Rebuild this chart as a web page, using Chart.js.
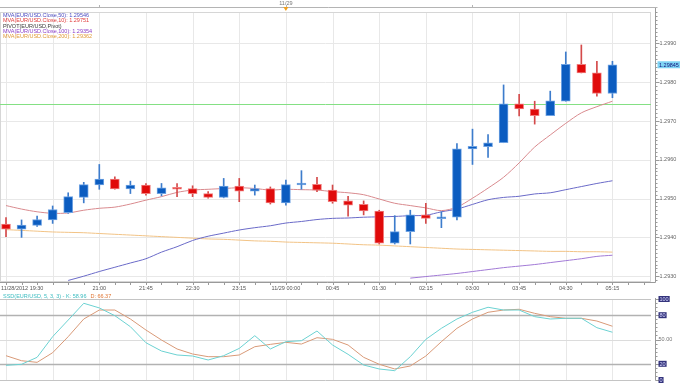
<!DOCTYPE html>
<html><head><meta charset="utf-8">
<script src="https://cdn.jsdelivr.net/npm/chart.js@4.4.0/dist/chart.umd.min.js"></script>
<style>
html,body{margin:0;padding:0;background:#fff;}
#wrap{position:relative;width:680px;height:385px;overflow:hidden;background:#fff;}
#main{position:absolute;left:0;top:0;}
#stoch{position:absolute;left:0;top:290px;}
</style></head><body>
<div id="wrap"><canvas id="main" width="680" height="300"></canvas><canvas id="stoch" width="680" height="95"></canvas></div>
<script>
// ---------- DATA ----------
const times = ['19:30','19:45','20:00','20:15','20:30','20:45','21:00','21:15','21:30','21:45','22:00','22:15','22:30','22:45','23:00','23:15','23:30','23:45',
  '00:00','00:15','00:30','00:45','01:00','01:15','01:30','01:45','02:00','02:15','02:30','02:45','03:00','03:15','03:30','03:45','04:00','04:15','04:30','04:45','05:00','05:15'];
const tickIdx  = [0,6,9,12,15,18,21,24,27,30,33,36,39];
const tickText = ['11/28/2012 19:30','21:00','21:45','22:30','23:15','11/29 00:00','00:45','01:30','02:15','03:00','03:45','04:30','05:15'];
const dayMarkerText = '11/29';
const priceTicks = [1.2930,1.2940,1.2950,1.2960,1.2970,1.2980,1.2990];

const open  = [1.29434,1.29421,1.29431,1.29445,1.29464,1.29503,1.29535,1.29550,1.29525,1.29535,1.29513,1.29528,1.29526,1.29513,1.29503,1.29532,1.29519,1.29526,1.29489,1.29535,1.29537,1.29522,1.29494,1.29485,1.29468,1.29385,1.29415,1.29458,1.29448,1.29452,1.29628,1.29634,1.29644,1.29744,1.29731,1.29714,1.29751,1.29846,1.29824,1.29771];
const high  = [1.29451,1.29445,1.29455,1.29481,1.29515,1.29542,1.29588,1.29556,1.29545,1.29539,1.29539,1.29539,1.29533,1.29518,1.29552,1.29552,1.29535,1.29530,1.29548,1.29572,1.29555,1.29535,1.29506,1.29494,1.29470,1.29456,1.29470,1.29488,1.29466,1.29642,1.29679,1.29665,1.29793,1.29769,1.29751,1.29777,1.29878,1.29896,1.29854,1.29854];
const low   = [1.29402,1.29400,1.29428,1.29436,1.29462,1.29489,1.29524,1.29524,1.29513,1.29509,1.29507,1.29505,1.29505,1.29501,1.29502,1.29492,1.29509,1.29486,1.29483,1.29524,1.29518,1.29488,1.29455,1.29458,1.29383,1.29383,1.29383,1.29436,1.29425,1.29445,1.29588,1.29606,1.29644,1.29713,1.29692,1.29714,1.29751,1.29824,1.29764,1.29760];
const close = [1.29421,1.29432,1.29446,1.29472,1.29505,1.29536,1.29550,1.29525,1.29535,1.29513,1.29528,1.29524,1.29513,1.29503,1.29532,1.29519,1.29526,1.29489,1.29536,1.29538,1.29522,1.29492,1.29483,1.29468,1.29385,1.29415,1.29458,1.29449,1.29452,1.29628,1.29635,1.29644,1.29744,1.29731,1.29714,1.29752,1.29846,1.29824,1.29771,1.29845];

const ma10  = [1.29482,1.29473,1.29466,1.29462,1.29463,1.29470,1.29475,1.29478,1.29486,1.29496,1.29505,1.29516,1.29522,1.29524,1.29526,1.29528,1.29526,1.29522,1.29524,1.29523,1.29522,1.29518,1.29515,1.29510,1.29499,1.29488,1.29482,1.29476,1.29469,1.29478,1.29501,1.29527,1.29555,1.29592,1.29633,1.29664,1.29694,1.29721,1.29737,1.29751];
const ma50  = [null,null,null,null,1.29289,1.29300,1.29312,1.29323,1.29334,1.29345,1.29362,1.29376,1.29392,1.29403,1.29411,1.29419,1.29425,1.29430,1.29437,1.29441,1.29446,1.29449,1.29450,1.29452,1.29453,1.29454,1.29456,1.29457,1.29466,1.29473,1.29485,1.29497,1.29503,1.29506,1.29512,1.29515,1.29523,1.29531,1.29539,1.29546];
const ma100 = [null,null,null,null,null,null,null,null,null,null,null,null,null,null,null,null,null,null,null,null,null,null,null,null,null,
  null,1.29295,1.29299,1.29303,1.29307,1.29312,1.29317,1.29322,1.29326,1.29330,1.29335,1.29340,1.29345,1.29351,1.29354];
const ma200 = [1.29420,1.29418,1.29416,1.29414,1.29413,1.29412,1.29410,1.29408,1.29406,1.29404,1.29402,1.29400,1.29398,1.29396,1.29395,1.29393,1.29391,1.29390,1.29388,1.29387,1.29386,1.29385,1.29383,1.29381,1.29380,1.29378,1.29376,1.29374,1.29372,1.29370,1.29369,1.29368,1.29367,1.29366,1.29365,1.29364,1.29364,1.29363,1.29363,1.29362];
const pivot = 1.29744;

const stochK = [18.1,19.4,28,53.5,74,94.7,89,79.4,65.8,46,35.8,30.9,29.6,24.7,30,39,54.7,38.3,47.3,48.5,60.5,43.2,31.7,18.5,13.6,11.5,28.8,50.2,63.8,75.3,83.6,89.8,86.4,86.4,78.2,75.3,76.2,76.2,64.6,58.96];
const stochD = [30,23.8,21.8,33.7,53.5,75.3,86.4,86.4,75.3,61.7,49.4,38.3,32.1,28.8,28.8,30.9,41.1,44,46.5,44.4,52.2,50.2,43.2,28,19.4,13.6,17.3,29.6,47.3,63.8,75.3,83.6,86.4,87.3,82.3,78.2,76.2,76.2,72.8,66.37];
const stochLevels = [100,80,50,20,0];

// ---------- STYLE ----------
const FONT = '"Liberation Sans", Arial, sans-serif';
const FS = 5.5;
const UP = '#0b5cc0', DOWN = '#e00a0a';
const C_MA10 = '#d98a8e', C_MA50 = '#6a6ac8', C_MA100 = '#a27ad6', C_MA200 = '#f2c385', C_PIV = '#84e084';
const C_K = '#6cd2d2', C_D = '#d99a78';
const XMIN = -0.386, XMAX = 41.48;

function pts(arr){ return arr.map((v,i)=>({x:i,y:v})).filter(p=>p.y!=null); }
function hline(ctx,x1,x2,y){ ctx.beginPath(); ctx.moveTo(x1,y); ctx.lineTo(x2,y); ctx.stroke(); }
function vline(ctx,x,y1,y2){ ctx.beginPath(); ctx.moveTo(x,y1); ctx.lineTo(x,y2); ctx.stroke(); }
const isUp = i => close[i] >= open[i];

const mainDecor = {
  id:'mainDecor',
  beforeDatasetsDraw(chart){
    const {ctx, chartArea:a, scales:{x,y}} = chart;
    ctx.save();
    ctx.lineWidth = 1;
    ctx.strokeStyle = '#e8e8e8';
    for (let i=0;i<times.length;i+=3){ const px=Math.round(x.getPixelForValue(i))+0.5; vline(ctx,px,a.top,a.bottom); }
    for (const v of priceTicks){ const py=Math.round(y.getPixelForValue(v))+0.5; hline(ctx,a.left,a.right,py); }
    ctx.strokeStyle = '#d6d6d6';
    ctx.strokeRect(a.left+0.5,a.top+0.5,a.right-a.left-1,a.bottom-a.top-1);
    ctx.strokeStyle = C_PIV;
    hline(ctx,a.left,a.right,Math.round(y.getPixelForValue(pivot))+0.5);
    ctx.restore();
  },
  afterDraw(chart){
    const {ctx, chartArea:a, scales:{x,y}} = chart;
    ctx.save();
    const axX = a.right + 4.5;
    ctx.strokeStyle = '#9a9a9a'; ctx.lineWidth = 1;
    vline(ctx, axX, 7, a.bottom+0.5);
    for (let k=0;k<=80;k++){
      const v = 1.2922 + k*0.0001;
      const py = y.getPixelForValue(v);
      if (py < a.top-1 || py > a.bottom+1) continue;
      const major = priceTicks.some(t=>Math.abs(t-v)<1e-7);
      hline(ctx, axX, axX + (major?4:2), Math.round(py)+0.5);
    }
    ctx.font = `${FS}px ${FONT}`; ctx.fillStyle = '#666'; ctx.textBaseline = 'middle'; ctx.textAlign='left';
    for (const v of priceTicks){ ctx.fillText(v.toFixed(4), axX+4, y.getPixelForValue(v)); }
    const last = close[close.length-1];
    const lp = y.getPixelForValue(last);
    const lt = last.toFixed(5);
    ctx.fillStyle = '#7fd4f4';
    const tw = ctx.measureText(lt).width;
    ctx.fillRect(axX+2, lp-3.5, tw+3, 7);
    ctx.fillStyle = '#14147a';
    ctx.fillText(lt, axX+3.5, lp+0.3);
    ctx.strokeStyle = '#9a9a9a';
    hline(ctx, 0, axX, a.bottom+0.5);
    for (let i=0;i<times.length+2;i++){
      const px = Math.round(x.getPixelForValue(i))+0.5;
      if (px > a.right) break;
      vline(ctx, px, a.bottom, a.bottom+3);
    }
    ctx.fillStyle = '#555'; ctx.textBaseline='middle';
    tickIdx.forEach((ti,k)=>{
      const px = x.getPixelForValue(ti);
      if (k===0){ ctx.textAlign='left'; ctx.fillText(tickText[k], 1, a.bottom+6.5); }
      else { ctx.textAlign='center'; ctx.fillText(tickText[k], px, a.bottom+6.5); }
    });
    ctx.strokeStyle = '#b4b4b4';
    hline(ctx, 0, axX+2, 7.5);
    times.forEach((t,i)=>{
      const h = parseInt(t.slice(0,2),10);
      if (t.endsWith(':00') && h%3===0){ const px=Math.round(x.getPixelForValue(i))+0.5; vline(ctx,px,5,7.5); }
    });
    const dayIdx = times.indexOf('00:00');
    const dx = x.getPixelForValue(dayIdx);
    ctx.fillStyle = '#777'; ctx.textAlign='center'; ctx.font = `${FS}px ${FONT}`;
    ctx.fillText(dayMarkerText, dx, 3);
    ctx.fillStyle = '#f0a020';
    ctx.beginPath(); ctx.moveTo(dx-2.5,7); ctx.lineTo(dx+2.5,7); ctx.lineTo(dx,11); ctx.closePath(); ctx.fill();
    ctx.textAlign='left'; ctx.textBaseline='middle';
    const leg = [
      [`MVA(EUR/USD.Close,50): ${ma50[ma50.length-1].toFixed(5)}`, '#4b4bc0'],
      [`MVA(EUR/USD.Close,10): ${ma10[ma10.length-1].toFixed(5)}`, '#e03a3a'],
      ['PIVOT(EUR/USD,Pivot)', '#3a3a3a'],
      [`MVA(EUR/USD.Close,100): ${ma100[ma100.length-1].toFixed(5)}`, '#8a3cc8'],
      [`MVA(EUR/USD.Close,200): ${ma200[ma200.length-1].toFixed(5)}`, '#e09a38'],
    ];
    leg.forEach((l,k)=>{ ctx.fillStyle=l[1]; ctx.fillText(l[0], 3, 15.5 + k*5.3); });
    ctx.restore();
  }
};

new Chart(document.getElementById('main'), {
  type:'bar',
  data:{ datasets:[
    { type:'bar', data: times.map((t,i)=>({x:i,y:[open[i],close[i]]})),
      backgroundColor: c=> isUp(c.dataIndex)?UP:DOWN,
      borderColor: c=> isUp(c.dataIndex)?'#6ea2e2':'#f07c7c',
      borderWidth:1, borderSkipped:false, barThickness:9, grouped:false, minBarLength:2 },
    { type:'bar', data: times.map((t,i)=>({x:i,y:[low[i],high[i]]})),
      backgroundColor: c=> isUp(c.dataIndex)?'#3d7ccc':'#d44a4a',
      borderWidth:0, barThickness:1, grouped:false },
    { type:'line', data: pts(ma10), borderColor:C_MA10, borderWidth:1, pointRadius:0, tension:0.3 },
    { type:'line', data: pts(ma50), borderColor:C_MA50, borderWidth:1, pointRadius:0, tension:0.3 },
    { type:'line', data: pts(ma100), borderColor:C_MA100, borderWidth:1, pointRadius:0, tension:0.3 },
    { type:'line', data: pts(ma200), borderColor:C_MA200, borderWidth:1, pointRadius:0, tension:0.3 },
  ]},
  options:{
    responsive:false, animation:false, events:[],
    layout:{ padding:{ top:12, right:29, bottom:18, left:0 } },
    plugins:{ legend:{display:false}, tooltip:{enabled:false} },
    scales:{
      x:{ type:'linear', min:XMIN, max:XMAX, offset:false, display:false },
      y:{ type:'linear', min:1.29285, max:1.29981, display:false }
    }
  },
  plugins:[mainDecor]
});

const stochDecor = {
  id:'stochDecor',
  beforeDatasetsDraw(chart){
    const {ctx, chartArea:a, scales:{x,y}} = chart;
    ctx.save(); ctx.lineWidth=1;
    ctx.strokeStyle = '#e8e8e8';
    for (let i=0;i<times.length;i+=3){ const px=Math.round(x.getPixelForValue(i))+0.5; vline(ctx,px,a.top,a.bottom); }
    stochLevels.forEach(v=>{
      const py = Math.round(y.getPixelForValue(v))+0.5;
      if (v===80||v===20){ ctx.strokeStyle='#b2b2b2'; ctx.lineWidth=1.6; }
      else if (v===50){ ctx.strokeStyle='#dcdcdc'; ctx.lineWidth=1; }
      else { ctx.strokeStyle='#c4c4c4'; ctx.lineWidth=1; }
      hline(ctx,a.left,a.right,py);
    });
    ctx.restore();
  },
  afterDraw(chart){
    const {ctx, chartArea:a, scales:{x,y}} = chart;
    ctx.save();
    const axX = a.right + 4.5;
    ctx.strokeStyle='#9a9a9a'; ctx.lineWidth=1;
    vline(ctx, axX, a.top-1, a.bottom+0.5);
    for (let v=0; v<=100; v+=5){
      const major = stochLevels.includes(v);
      hline(ctx, axX, axX+(major?4:2), Math.round(y.getPixelForValue(v))+0.5);
    }
    ctx.font = `${FS}px ${FONT}`; ctx.textBaseline='middle'; ctx.textAlign='left';
    stochLevels.forEach(v=>{
      const py = y.getPixelForValue(v);
      if (v===50){ ctx.fillStyle='#777'; ctx.fillText('50.00', axX+3, py); }
      else {
        const t = String(v); const w = ctx.measureText(t).width;
        ctx.fillStyle='#34347c'; ctx.fillRect(axX+3, py-3, w+2, 6);
        ctx.fillStyle='#d8d8ff'; ctx.fillText(t, axX+4, py+0.3);
      }
    });
    const kTxt = `SSD(EUR/USD, 5, 3, 3) - K: ${stochK[stochK.length-1].toFixed(2)}`;
    const dTxt = `D: ${stochD[stochD.length-1].toFixed(2)}`;
    ctx.fillStyle='#3cbcc0'; ctx.fillText(kTxt, 3, a.top-2.5);
    const kw = ctx.measureText(kTxt).width;
    ctx.fillStyle='#e07634'; ctx.fillText(dTxt, 3+kw+4, a.top-2.5);
    ctx.restore();
  }
};

new Chart(document.getElementById('stoch'), {
  type:'line',
  data:{ datasets:[
    { data: pts(stochK), borderColor:C_K, borderWidth:1, pointRadius:0, tension:0 },
    { data: pts(stochD), borderColor:C_D, borderWidth:1, pointRadius:0, tension:0 },
  ]},
  options:{
    responsive:false, animation:false, events:[],
    layout:{ padding:{ top:9, right:29, bottom:5, left:0 } },
    plugins:{ legend:{display:false}, tooltip:{enabled:false} },
    scales:{
      x:{ type:'linear', min:XMIN, max:XMAX, offset:false, display:false },
      y:{ type:'linear', min:0, max:100, display:false }
    }
  },
  plugins:[stochDecor]
});
</script>
</body></html>
